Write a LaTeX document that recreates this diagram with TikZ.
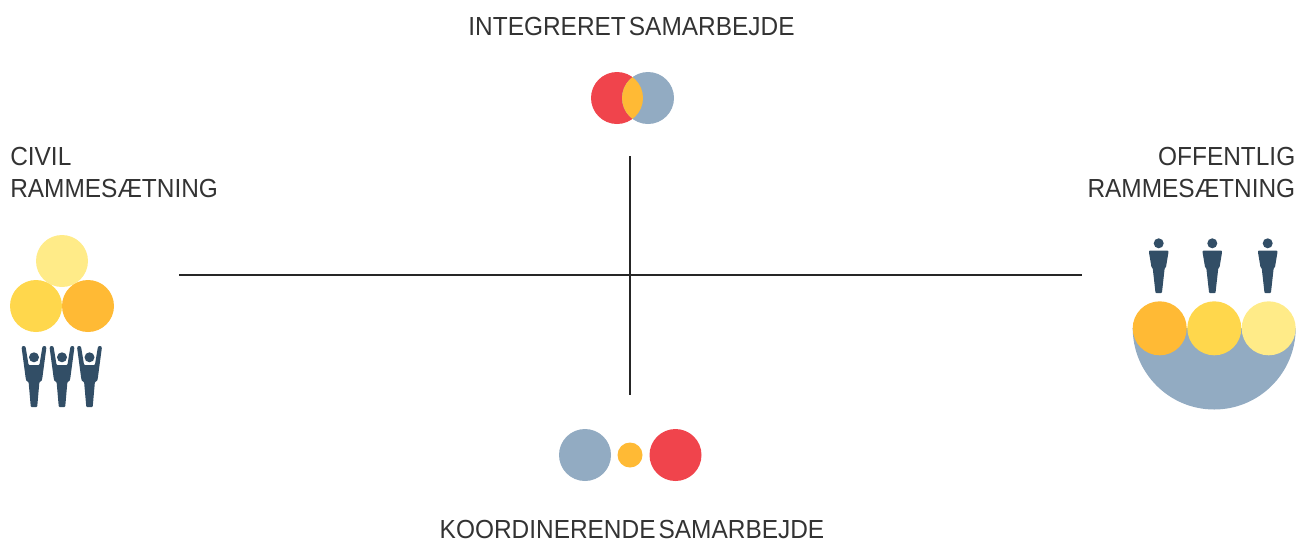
\documentclass[tikz,border=0pt]{standalone}
\usepackage{fontspec}
\setmainfont[WordSpace=0.45,FakeStretch=0.935]{Liberation Sans}
\definecolor{cred}{HTML}{F0444C}
\definecolor{cblue}{HTML}{92ABC2}
\definecolor{corange}{HTML}{FFBA35}
\definecolor{cyellow}{HTML}{FFD74C}
\definecolor{cpale}{HTML}{FFEB88}
\definecolor{cnavy}{HTML}{324E66}
\definecolor{ctext}{HTML}{333333}
\tikzset{
  disc/.style={circle,inner sep=0pt,minimum size=#1*0.75pt,outer sep=0pt},
  lbl/.style={font=\fontsize{19.6pt}{24.6pt}\selectfont,text=ctext,inner sep=0pt},
  axis/.style={draw=black!85,line width=0.8pt}
}
\newcommand{\raisedfig}[1]{%
  \fill[cnavy] (#1,357.3) circle[radius=5];
  \fill[cnavy,rounded corners=0.6] (#1-3.2,407) -- (#1+3.2,407) -- (#1+5.4,382) -- (#1+7.5,381) -- (#1+8.2,379)
    -- (#1+12.4,347.5) -- (#1+11.5,346) -- (#1+9.3,346) -- (#1+8.4,347) -- (#1+5.4,365) -- (#1-5.4,365) -- (#1-8.4,347)
    -- (#1-9.3,346) -- (#1-11.5,346) -- (#1-12.4,347.5) -- (#1-8.2,379) -- (#1-7.5,381) -- (#1-5.4,382) -- cycle;
}
\newcommand{\standfig}[1]{%
  \fill[cnavy] (#1,243.3) circle[radius=5];
  \fill[cnavy,rounded corners=0.6] (#1-3.2,293) -- (#1+3.2,293) -- (#1+6,268) -- (#1+7.2,267.5) -- (#1+9.8,252) -- (#1+9.5,250.5)
    -- (#1-9.5,250.5) -- (#1-9.8,252) -- (#1-7.2,267.5) -- (#1-6,268) -- cycle;
}
\begin{document}
\begin{tikzpicture}[x=0.75pt,y=-0.75pt]
\useasboundingbox (0,0) rectangle (1299,540);
% axes
\coordinate (hl) at (179,275); \coordinate (hr) at (1082,275);
\coordinate (vt) at (630,156); \coordinate (vb) at (630,395);
\draw[axis] (hl) -- (hr);
\draw[axis] (vt) -- (vb);
% labels
\node[lbl,anchor=center] (top) at (631.5,26) {INTEGRERET SAMARBEJDE};
\node[lbl,anchor=center] (bot) at (632,529.5) {KOORDINERENDE SAMARBEJDE};
\node[lbl,anchor=west,align=left] (civ) at (10,172.5) {CIVIL\\RAMMESÆTNING};
\node[lbl,anchor=east,align=right] (off) at (1295.5,172.5) {OFFENTLIG\\RAMMESÆTNING};
% top venn
\node[disc=52,fill=cred] (vr) at (617,98) {};
\node[disc=52,fill=cblue] (vbl) at (648,98) {};
\begin{scope}
  \clip (617,98) circle[radius=26];
  \fill[corange] (648,98) circle[radius=26];
\end{scope}
% bottom
\node[disc=52,fill=cblue] (bb) at (585,455) {};
\node[disc=25,fill=corange] (bo) at (630,455) {};
\node[disc=52,fill=cred] (br) at (675.5,455) {};
% left
\node[disc=52,fill=cpale] (lp) at (62,261) {};
\node[disc=52,fill=cyellow] (ly) at (36,306) {};
\node[disc=52,fill=corange] (lo) at (88,306) {};
\raisedfig{34}\raisedfig{62}\raisedfig{89.5}
% right
\fill[cblue] (1132.7,328) arc[start angle=180,end angle=0,radius=81.5] -- cycle;
\node[disc=54,fill=corange] (ro) at (1159.7,328.3) {};
\node[disc=54,fill=cyellow] (ry) at (1214.3,328.3) {};
\node[disc=54,fill=cpale] (rp) at (1268.7,328.3) {};
\standfig{1158.7}\standfig{1212.3}\standfig{1267.7}
\end{tikzpicture}
\end{document}
